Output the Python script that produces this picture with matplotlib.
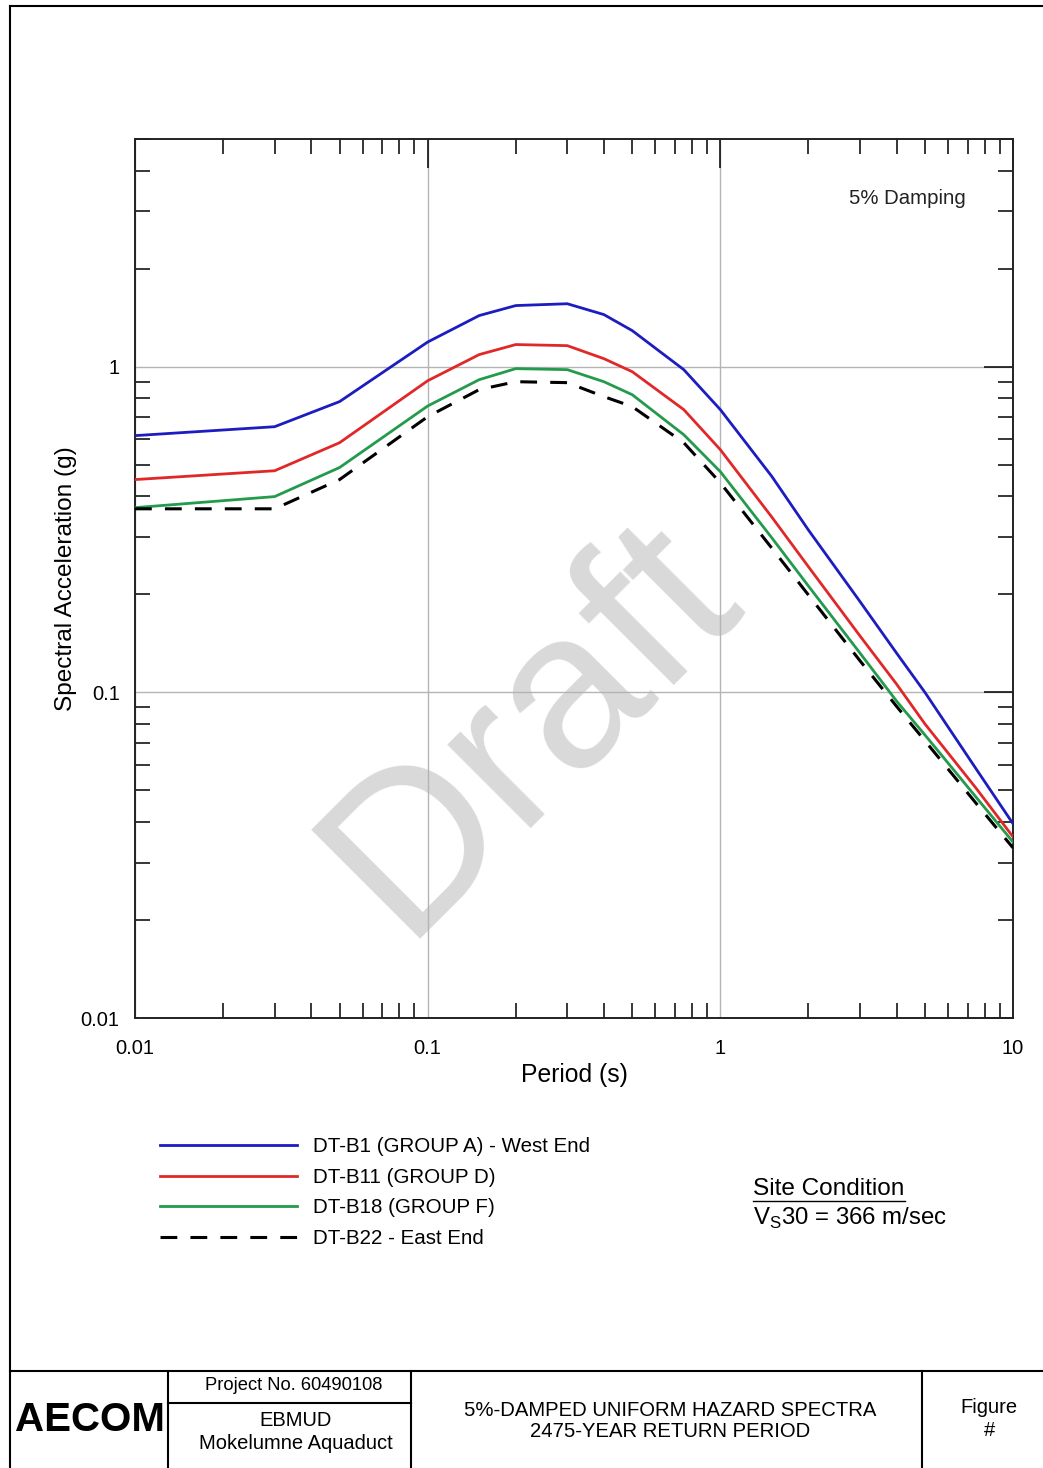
import matplotlib
matplotlib.use("Agg")
import matplotlib.pyplot as plt
from matplotlib.lines import Line2D
from matplotlib.ticker import LogLocator, NullFormatter, FixedLocator, FixedFormatter

plt.rcParams['font.family'] = ['Liberation Sans', 'DejaVu Sans']

# Uniform hazard spectra, 2475-yr return period, 5% damping
periods = [0.01, 0.03, 0.05, 0.1, 0.15, 0.2, 0.3, 0.4, 0.5, 0.75, 1.0,
           1.5, 2.0, 3.0, 4.0, 5.0, 7.5, 10.0]
sa_b1 = [0.614, 0.654, 0.781, 1.19, 1.435, 1.54, 1.56, 1.445, 1.29, 0.979, 0.738,
         0.46, 0.315, 0.19, 0.132, 0.100, 0.058, 0.0395]
sa_b11 = [0.450, 0.479, 0.584, 0.905, 1.089, 1.169, 1.16, 1.058, 0.965, 0.738, 0.556,
          0.345, 0.243, 0.149, 0.106, 0.080, 0.0506, 0.036]
sa_b18 = [0.369, 0.399, 0.490, 0.757, 0.912, 0.986, 0.979, 0.899, 0.820, 0.618, 0.476,
          0.298, 0.212, 0.132, 0.094, 0.074, 0.0475, 0.0347]
sa_b22 = [0.366, 0.366, 0.450, 0.702, 0.850, 0.899, 0.893, 0.809, 0.754, 0.584, 0.44,
          0.277, 0.199, 0.125, 0.0906, 0.071, 0.0455, 0.0333]

labels = ['DT-B1 (GROUP A) - West End', 'DT-B11 (GROUP D)',
          'DT-B18 (GROUP F)', 'DT-B22 - East End']

x_ticks = [0.01, 0.1, 1, 10]
x_ticklabels = ['0.01', '0.1', '1', '10']
y_ticks = [0.01, 0.1, 1]
y_ticklabels = ['0.01', '0.1', '1']

W, H = 1043, 1468
fig = plt.figure(figsize=(W / 100, H / 100), dpi=100)

def fx(px):
    return px / W

def fy(py):
    return 1 - py / H

ax = fig.add_axes([fx(135), fy(1018), fx(1013) - fx(135), fy(139) - fy(1018)])
ax.set_xscale('log')
ax.set_yscale('log')
ax.set_xlim(0.01, 10)
ax.set_ylim(0.01, 5.0)

ax.plot(periods, sa_b1, color='#1c1cc0', lw=2.0, label=labels[0], zorder=4)
ax.plot(periods, sa_b11, color='#e02828', lw=2.0, label=labels[1], zorder=4)
ax.plot(periods, sa_b18, color='#239a4c', lw=2.0, label=labels[2], zorder=4)
ax.plot(periods, sa_b22, color='black', lw=2.2, ls=(0, (5.5, 4.3)), label=labels[3], zorder=4)

# watermark
ax.text(0.452, 0.33, 'Draft', transform=ax.transAxes, fontsize=160, color='#d9d9d9',
        rotation=45, ha='center', va='center', zorder=1)

ax.xaxis.set_major_locator(FixedLocator(x_ticks))
ax.xaxis.set_major_formatter(FixedFormatter(x_ticklabels))
ax.yaxis.set_major_locator(FixedLocator(y_ticks))
ax.yaxis.set_major_formatter(FixedFormatter(y_ticklabels))
ax.xaxis.set_minor_locator(LogLocator(base=10, subs=range(2, 10)))
ax.yaxis.set_minor_locator(LogLocator(base=10, subs=range(2, 10)))
ax.xaxis.set_minor_formatter(NullFormatter())
ax.yaxis.set_minor_formatter(NullFormatter())

ax.tick_params(which='major', direction='in', length=21, width=1.1,
               top=True, right=True, bottom=False, left=False,
               labelbottom=True, labelleft=True, labelsize=14.5, colors='black')
ax.tick_params(axis='x', which='major', pad=15)
ax.tick_params(axis='y', which='major', pad=11)
ax.tick_params(which='minor', direction='in', length=11, width=1.1,
               top=True, right=True, bottom=True, left=True)

ax.grid(True, which='major', color='#b4b4b4', lw=1.0)
for s in ax.spines.values():
    s.set_linewidth(1.4)
    s.set_color('#222222')

ax.set_xlabel('Period (s)', fontsize=17.8, labelpad=4)
ax.set_ylabel('Spectral Acceleration (g)', fontsize=17.6, labelpad=3)

ax.text(0.946, 0.932, '5% Damping', transform=ax.transAxes, fontsize=14.7,
        ha='right', va='center', color='#222222')

handles, _ = ax.get_legend_handles_labels()
fig.legend(handles, labels, loc='upper left', bbox_to_anchor=(fx(160), fy(1137)),
           frameon=False, fontsize=14.8, handlelength=6.65, handletextpad=0.78,
           labelspacing=0.57, borderaxespad=0, borderpad=0)

# site condition note
fig.text(fx(753), fy(1189), 'Site Condition', fontsize=17.6, ha='left', va='center')
fig.add_artist(Line2D([fx(753), fx(905)], [fy(1201), fy(1201)], color='black', lw=1.0))
fig.text(fx(753), fy(1218), r'V$_\mathregular{S}$30 = 366 m/sec', fontsize=17.3,
         ha='left', va='center')

# page frame and title block
frame = dict(color='black', lw=1.5)
fig.add_artist(Line2D([fx(10), fx(10)], [fy(6), fy(1468)], **frame))
fig.add_artist(Line2D([fx(10), fx(1043)], [fy(6), fy(6)], **frame))
fig.add_artist(Line2D([fx(10), fx(1043)], [fy(1371), fy(1371)], **frame))
for xv in [168, 411, 922]:
    fig.add_artist(Line2D([fx(xv), fx(xv)], [fy(1371), fy(1468)], **frame))
fig.add_artist(Line2D([fx(168), fx(411)], [fy(1403), fy(1403)], **frame))

fig.text(fx(90), fy(1420), 'AECOM', fontsize=29, fontweight='heavy', ha='center', va='center')
fig.text(fx(294), fy(1386), 'Project No. 60490108', fontsize=13.2, ha='center', va='center')
fig.text(fx(296), fy(1432), 'EBMUD\nMokelumne Aquaduct', fontsize=14.5, ha='center',
         va='center', linespacing=1.25)
fig.text(fx(670), fy(1421), '5%-DAMPED UNIFORM HAZARD SPECTRA\n2475-YEAR RETURN PERIOD',
         fontsize=14.6, ha='center', va='center', linespacing=1.15)
fig.text(fx(989), fy(1419), 'Figure\n#', fontsize=14.5, ha='center', va='center',
         linespacing=1.25)

fig.savefig('out.png', dpi=100, facecolor='white')
